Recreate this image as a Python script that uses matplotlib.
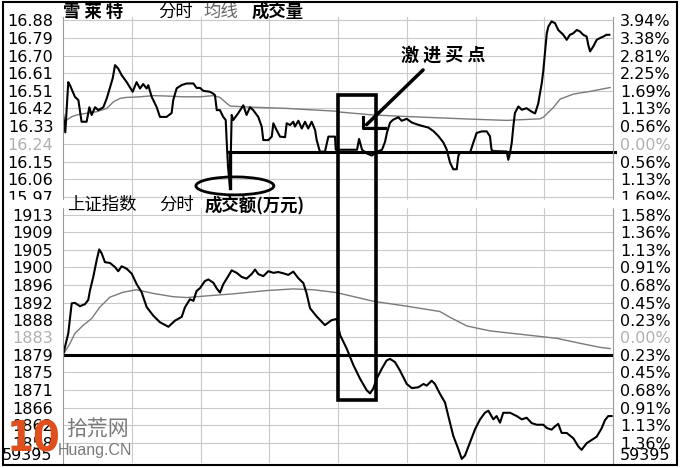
import matplotlib
matplotlib.use("Agg")
import matplotlib.pyplot as plt
from matplotlib.patches import Rectangle, Ellipse

CJK = ["Noto Sans CJK SC", "DejaVu Sans"]

# ---- 雪莱特 分时 (minutes from open, price) ----
top_t = [0, 1, 2.3, 3, 5.2, 6.7, 8.1, 10.3, 11.5, 12.5, 14, 15.4, 17.6, 19.1, 20.5,
         21.7, 22.7, 24.1, 25.6, 27.8, 30.4, 32.1, 33.6, 35, 36.5, 37.2, 38.7, 40.9,
         42.3, 45.2, 47.4, 48.1, 49.6, 51.8, 54, 56.9, 58.3, 59.8, 61.2, 64.1, 65.6,
         66.3, 67.1, 68.5, 69.9, 71, 71.4, 72, 72.9, 73.6, 74.3, 76.5, 78.7, 80.1,
         81.6, 83, 85.2, 86.7, 87.4, 89.6, 91.1, 91.8, 93.2, 94.7, 96.9, 97.6, 99.1,
         100.5, 101.2, 102.7, 104.2, 105.6, 107, 108.5, 110, 110.7, 112.1, 114.3,
         115.1, 115.8, 118.7, 119, 128.3, 129.2, 130.5, 132.7, 134.8, 137, 139.2,
         140.5, 141.4, 142.7, 144, 146.3, 147.8, 150, 152.2, 154.3, 156.5, 159.4,
         161.6, 163.8, 166, 167.4, 168.9, 170.3, 171.8, 172.5, 173.2, 177.6, 179,
         180.5, 182.7, 184.9, 186.3, 187, 187.8, 193.6, 194.3, 195, 195.8, 196.5,
         197.2, 198.7, 200.2, 202.3, 204.5, 206, 207.4, 208.1, 208.9, 209.6, 210.3,
         211.1, 211.8, 213.2, 214.7, 216.1, 218.3, 219.8, 221.2, 222.7, 224.2, 225.6,
         227, 228.5, 229.2, 230, 231.4, 232.9, 234.3, 235.8, 237.2, 238.4]
top_price = [16.40, 16.30, 16.56, 16.545, 16.484, 16.467, 16.355, 16.355, 16.43, 16.39,
             16.43, 16.415, 16.43, 16.476, 16.533, 16.58, 16.648, 16.63, 16.596, 16.56,
             16.51, 16.56, 16.527, 16.55, 16.527, 16.544, 16.484, 16.43, 16.38, 16.38,
             16.40, 16.467, 16.528, 16.545, 16.553, 16.553, 16.53, 16.53, 16.515, 16.51,
             16.50, 16.493, 16.415, 16.415, 16.38, 16.364, 16.26, 16.123, 16.01, 16.39,
             16.364, 16.40, 16.44, 16.39, 16.43, 16.415, 16.38, 16.33, 16.26, 16.26,
             16.278, 16.347, 16.312, 16.278, 16.275, 16.347, 16.338, 16.355, 16.33,
             16.36, 16.32, 16.355, 16.32, 16.355, 16.312, 16.26, 16.20, 16.20, 16.243,
             16.278, 16.278, 16.21, 16.21, 16.266, 16.21, 16.19, 16.18, 16.20, 16.21,
             16.25, 16.30, 16.35, 16.365, 16.378, 16.36, 16.37, 16.351, 16.342, 16.334,
             16.325, 16.307, 16.281, 16.247, 16.212, 16.143, 16.109, 16.109, 16.178,
             16.195, 16.194, 16.245, 16.297, 16.305, 16.305, 16.28, 16.21, 16.203,
             16.201, 16.158, 16.19, 16.244, 16.33, 16.40, 16.434, 16.417, 16.425,
             16.407, 16.398, 16.45, 16.50, 16.553, 16.62, 16.71, 16.813, 16.848, 16.874,
             16.865, 16.83, 16.805, 16.779, 16.805, 16.813, 16.83, 16.822, 16.805,
             16.796, 16.753, 16.719, 16.745, 16.779, 16.788, 16.796, 16.805, 16.805]
avg_t = [0.9, 1.6, 3.8, 6, 10.3, 14.7, 19.1, 22, 24.9, 27.8, 33.6, 39.4, 45.2, 52.5,
         59.8, 65.6, 68.5, 70.7, 72.9, 83, 97.6, 110.7, 118.7, 120.9, 135.4, 150,
         164.5, 179, 193.6, 208.1, 209.6, 214, 216.9, 222.7, 230, 238.7]
avg_price = [16.321, 16.364, 16.381, 16.39, 16.399, 16.407, 16.424, 16.458, 16.476,
             16.481, 16.484, 16.49, 16.488, 16.484, 16.484, 16.49, 16.481, 16.458,
             16.436, 16.43, 16.424, 16.415, 16.41, 16.405, 16.39, 16.382, 16.375,
             16.368, 16.362, 16.37, 16.378, 16.429, 16.472, 16.498, 16.512, 16.532]
top_close = 16.24
top_pct = [3.94, 3.38, 2.81, 2.25, 1.69, 1.13, 0.56, 0.00, -0.56, -1.13, -1.69]
top_labels = ["16.88", "16.79", "16.70", "16.61", "16.51", "16.42", "16.33",
              "16.24", "16.15", "16.06", "15.97"]
top_support = 16.20

# ---- 上证指数 分时 ----
idx_t = [0, 2.3, 3.8, 5.2, 7.4, 9.6, 11, 11.8, 13.2, 14.7, 15.8, 16.9, 18.3, 20.5,
         22.7, 24.1, 25.6, 27.8, 30, 32.1, 34.3, 36.5, 39.4, 42.3, 46, 48.9, 51.8,
         53.2, 55.4, 56.9, 58.3, 59.8, 61.9, 63.4, 65.6, 67.1, 68.5, 69.9, 72.1, 73.6,
         75.8, 78, 80.1, 82.3, 83.8, 85.2, 87.4, 89.6, 91.8, 93.9, 96.1, 98.3, 100.5,
         102.7, 104.9, 106.3, 107.8, 110.7, 114.3, 117.2, 119.4, 120.9, 123.8, 126.7,
         129.6, 132.5, 134, 135.4, 136.9, 139.1, 141.2, 142.7, 144.9, 147, 150, 152.2,
         155.1, 157.3, 158.7, 160.9, 162.3, 164.5, 166.7, 168.1, 170.3, 172.5, 174,
         175.4, 177.6, 179.8, 182, 184.1, 185.6, 187.8, 189.2, 190.7, 192.1, 195.1,
         198, 200.2, 202.3, 204.5, 206.7, 209.6, 211.1, 213.2, 214.7, 216.1, 217.6,
         219.8, 222.7, 224.9, 226.3, 228.5, 230.7, 232.9, 235, 236.5, 237.9, 239.4]
idx_val = [1879.0, 1884.3, 1891.6, 1891.7, 1890.9, 1891.4, 1892.4, 1894.8, 1898.0,
           1902.1, 1904.7, 1903.7, 1901.6, 1901.4, 1900.4, 1899.4, 1900.6, 1900.0,
           1898.8, 1896.3, 1894.3, 1890.7, 1888.6, 1887.0, 1885.9, 1887.4, 1888.3,
           1890.6, 1892.6, 1892.2, 1894.6, 1895.3, 1897.0, 1897.4, 1896.6, 1895.2,
           1894.2, 1896.2, 1898.2, 1899.6, 1899.0, 1898.0, 1897.6, 1898.7, 1899.8,
           1898.7, 1898.2, 1899.4, 1899.0, 1899.2, 1898.9, 1898.5, 1899.3, 1897.7,
           1896.5, 1894.0, 1890.4, 1888.4, 1886.3, 1887.5, 1887.8, 1883.9, 1880.6,
           1876.6, 1873.3, 1870.5, 1869.7, 1870.9, 1873.3, 1875.7, 1877.7, 1878.1,
           1877.3, 1875.3, 1872.0, 1871.0, 1871.2, 1872.0, 1871.6, 1872.8, 1872.0,
           1869.6, 1867.5, 1864.3, 1859.4, 1856.2, 1853.8, 1854.6, 1857.8, 1861.0,
           1863.4, 1865.0, 1865.5, 1863.4, 1864.2, 1862.6, 1865.0, 1865.0, 1864.2,
           1863.4, 1863.8, 1862.5, 1862.1, 1862.1, 1861.3, 1860.9, 1861.7, 1862.3,
           1860.1, 1860.1, 1858.8, 1856.8, 1856.0, 1857.6, 1858.4, 1859.2, 1861.2,
           1863.2, 1864.2, 1864.2]
idx_avg_t = [0, 3.1, 5.2, 8.9, 12.5, 16.1, 20.5, 26.3, 32.1, 39.4, 48.1, 54, 62.7,
             74.3, 88.9, 100.5, 109.2, 119.4, 135.4, 150, 164.5, 168.9, 176.2, 186.3,
             200.9, 215.4, 225.5, 234.3, 238.7]
idx_avg = [1879.0, 1881.9, 1884.3, 1886.3, 1887.9, 1890.7, 1893.1, 1894.3, 1894.9,
           1894.0, 1893.2, 1893.0, 1893.4, 1893.9, 1894.7, 1895.1, 1894.9, 1894.2,
           1892.1, 1890.9, 1889.6, 1888.2, 1886.1, 1884.9, 1884.0, 1883.1, 1881.9,
           1880.9, 1880.6]
idx_close = 1883.3
idx_pct = [1.58, 1.36, 1.13, 0.91, 0.68, 0.45, 0.23, 0.00, -0.23, -0.45, -0.68,
           -0.91, -1.13, -1.36]
idx_labels = ["1913", "1909", "1905", "1900", "1896", "1892", "1888", "1883", "1879",
              "1875", "1871", "1866", "1862", "1858"]
idx_support = 1879
volume_label = "59395"

W, H = 685, 468
fig = plt.figure(figsize=(W / 100, H / 100), dpi=100)


def px_box(x0, y0, x1, y1):
    return [x0 / W, 1 - y1 / H, (x1 - x0) / W, (y1 - y0) / H]


def style(ax, close, pct, labels, ylim):
    ticks = [close * (1 + p / 100) for p in pct]
    ax.set_xlim(0, 240)
    ax.set_ylim(*ylim)
    ax.set_xticks(range(30, 240, 30))
    ax.set_yticks(ticks)
    ax.set_yticklabels(labels)
    ax.tick_params(length=0, labelsize=11.5, pad=7, labelbottom=False)
    ax.grid(True, color="#c9c9c9", lw=0.8)
    ax.set_axisbelow(True)
    for s in ["top", "bottom"]:
        ax.spines[s].set_visible(False)
    for s in ["left", "right"]:
        ax.spines[s].set_color("#9a9a9a")
        ax.spines[s].set_linewidth(0.8)
    axr = ax.twinx()
    axr.set_ylim(*ylim)
    axr.set_yticks(ticks)
    axr.set_yticklabels([f"{abs(p):.2f}%" for p in pct])
    axr.tick_params(length=0, labelsize=11.5, pad=5)
    for s in axr.spines.values():
        s.set_visible(False)
    base = pct.index(0.0)
    ax.get_yticklabels()[base].set_color("#b0b0b0")
    axr.get_yticklabels()[base].set_color("#b0b0b0")
    return axr


ax1 = fig.add_axes(px_box(63, 17, 613, 200))
ax2 = fig.add_axes(px_box(63, 207, 613, 463))
style(ax1, top_close, top_pct, top_labels, (15.950, 16.897))
style(ax2, idx_close, idx_pct, idx_labels, (1852.8, 1915.0))

ax1.plot(avg_t, avg_price, color="#7a7a7a", lw=1.0)
ax1.plot(top_t, top_price, color="black", lw=1.5)
ax2.plot(idx_avg_t, idx_avg, color="#7a7a7a", lw=1.0)
ax2.plot(idx_t, idx_val, color="black", lw=1.5)

# annotations
ax1.plot([72, 241], [top_support, top_support], color="black", lw=2.2, clip_on=False)
ax1.plot([72.9, 72.9], [top_support, 16.01], color="black", lw=2.4)
ax1.add_patch(Ellipse((75, 16.023), 34, 0.093, fill=False, ec="black", lw=2.0,
                      clip_on=False, zorder=5))
ax2.axhline(idx_support, color="black", lw=2.2)

ax1.annotate("", xy=(131.6, 16.33), xytext=(158, 16.633),
             arrowprops=dict(arrowstyle="-", lw=2.5, color="black"))
ax1.plot([131, 131, 140.5], [16.38, 16.323, 16.323], color="black", lw=2.2)
ax1.text(165.8, 16.70, "激 进 买 点", fontsize=13, fontweight="bold", family=CJK,
         ha="center", va="center")

# mask between panels (cuts the lowest labels of the top panel)
fig.add_artist(Rectangle((4 / W, 1 - 207 / H), 672 / W, 7 / H, transform=fig.transFigure,
                         color="white", zorder=5))

# box across both panels
to_fig = fig.transFigure.inverted()
x0, y0 = to_fig.transform(ax2.transData.transform((120, 1868.0)))
x1, y1 = to_fig.transform(ax1.transData.transform((136.6, 16.493)))
fig.add_artist(Rectangle((x0, y0), x1 - x0, y1 - y0, transform=fig.transFigure,
                         fill=False, ec="black", lw=2.6, zorder=6))


# titles
def ftext(x, y, s, **kw):
    fig.text(x / W, 1 - y / H, s, family=CJK, va="center", zorder=7, **kw)


ftext(63, 12, "雪 莱 特", fontsize=12.5, fontweight="bold")
ftext(158, 12, "分时", fontsize=12.5)
ftext(203, 12, "均线", fontsize=12.5, color="#666666")
ftext(252, 12, "成交量", fontsize=12.5, fontweight="bold")
ftext(67, 205, "上证指数", fontsize=12.5)
ftext(159, 205, "分时", fontsize=12.5)
ftext(205, 205, "成交额(万元)", fontsize=12.5, fontweight="bold")

fig.text(52 / W, 1 - 456 / H, volume_label, fontsize=11.5, ha="right", va="center")
fig.text(620 / W, 1 - 455 / H, volume_label, fontsize=11.5, ha="left", va="center")

# watermark
fig.text(7 / W, 1 - 440 / H, "10", fontsize=31, fontweight="bold", color="#e0501e",
         family="DejaVu Sans", fontstretch="condensed", va="center", zorder=8)
ftext(66, 429, "拾荒网", fontsize=15, color="#7a7a7a")
fig.text(58 / W, 1 - 451 / H, "Huang.CN", fontsize=11.5, color="#7a7a7a",
         family=["Liberation Sans", "DejaVu Sans"], va="center", zorder=8)

# outer frame
fig.add_artist(Rectangle((3 / W, 1 - 465 / H), 674 / W, 463 / H, transform=fig.transFigure,
                         fill=False, ec="black", lw=1.5, zorder=9))

fig.savefig("out.png", dpi=100)
